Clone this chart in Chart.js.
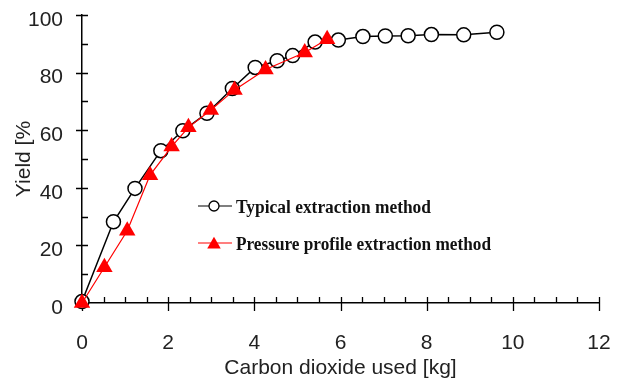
<!DOCTYPE html>
<html>
<head>
<meta charset="utf-8">
<script src="https://cdn.jsdelivr.net/npm/chart.js@4/dist/chart.umd.min.js"></script>
<style>
  html, body { margin: 0; padding: 0; background: #fff; }
  #wrap { width: 617px; height: 385px; position: relative; }
</style>
</head>
<body>
<div id="wrap"><canvas id="c" width="617" height="385"></canvas></div>
<script>
// ---- data ----
const typicalX = [0, 0.73, 1.23, 1.83, 2.34, 2.90, 3.49, 4.02, 4.53, 4.89, 5.41, 5.95, 6.52, 7.04, 7.57, 8.11, 8.86, 9.63];
const typicalY = [0.5, 28.2, 39.8, 52.9, 59.8, 65.9, 74.5, 81.8, 84.1, 85.9, 90.6, 91.3, 92.5, 92.7, 92.8, 93.2, 93.1, 94.0];
const pressureX = [0, 0.52, 1.05, 1.58, 2.08, 2.47, 2.99, 3.54, 4.26, 5.17, 5.69];
const pressureY = [0, 12.4, 25.1, 44.4, 54.3, 61.0, 67.0, 74.0, 81.1, 87.0, 91.6];
const xTickLabels = [0, 2, 4, 6, 8, 10, 12];
const yTickLabels = [0, 20, 40, 60, 80, 100];
const xMinorStep = 0.5;
const yMinorStep = 10;
const seriesNames = ['Typical extraction method', 'Pressure profile extraction method'];
const xTitle = 'Carbon dioxide used [kg]';
const yTitle = 'Yield [%';

const toPts = (xs, ys) => xs.map((x, i) => ({x: x, y: ys[i]}));

const TEXT = '#222';
const tickFont = {family: 'Liberation Sans', size: 21};

// custom tick marks (crossing major ticks, inward minor ticks)
const tickPlugin = {
  id: 'tickMarks',
  beforeDatasetsDraw(chart) {
    const {ctx, scales: {x, y}} = chart;
    const axisY = y.getPixelForValue(0);
    const axisX = x.getPixelForValue(0);
    ctx.save();
    ctx.strokeStyle = '#000';
    ctx.lineWidth = 1.3;
    ctx.beginPath();
    for (let v = x.min; v <= x.max + 1e-9; v += xMinorStep) {
      const px = Math.round(x.getPixelForValue(v)) + 0.5;
      const major = xTickLabels.includes(Math.round(v * 100) / 100);
      ctx.moveTo(px, axisY - 6);
      ctx.lineTo(px, major ? axisY + 8 : axisY);
    }
    for (let v = y.min; v <= y.max + 1e-9; v += yMinorStep) {
      const py = Math.round(y.getPixelForValue(v)) + 0.5;
      const major = yTickLabels.includes(Math.round(v));
      ctx.moveTo(major ? axisX - 6 : axisX, py);
      ctx.lineTo(axisX + 6, py);
    }
    ctx.stroke();
    ctx.restore();
  }
};

// legend drawn inside the plot
const legendPlugin = {
  id: 'innerLegend',
  afterDatasetsDraw(chart) {
    const {ctx} = chart;
    const items = [
      {y: 206, color: '#000', lw: 1.2, shape: 'circle', text: seriesNames[0], w: 195},
      {y: 243, color: '#ff0000', lw: 1.2, shape: 'triangle', text: seriesNames[1], w: 255}
    ];
    ctx.save();
    items.forEach(it => {
      ctx.strokeStyle = it.color;
      ctx.lineWidth = it.lw;
      ctx.beginPath();
      ctx.moveTo(198, it.y);
      ctx.lineTo(232, it.y);
      ctx.stroke();
      if (it.shape === 'circle') {
        ctx.beginPath();
        ctx.arc(214, it.y, 5, 0, Math.PI * 2);
        ctx.fillStyle = '#fff';
        ctx.fill();
        ctx.lineWidth = 1.3;
        ctx.strokeStyle = '#000';
        ctx.stroke();
      } else {
        const r = 7.8;
        ctx.beginPath();
        for (let k = 0; k < 3; k++) {
          const a = k * 2 * Math.PI / 3;
          const px = 214 + Math.sin(a) * r, py = it.y + 1.5 - Math.cos(a) * r;
          k === 0 ? ctx.moveTo(px, py) : ctx.lineTo(px, py);
        }
        ctx.closePath();
        ctx.fillStyle = '#ff0000';
        ctx.fill();
      }
      ctx.font = 'bold 18px "Liberation Serif"';
      ctx.fillStyle = '#111';
      ctx.textBaseline = 'alphabetic';
      ctx.textAlign = 'left';
      const mw = ctx.measureText(it.text).width;
      ctx.save();
      ctx.translate(236, it.y + 7);
      ctx.scale(it.w / mw, 1);
      ctx.fillText(it.text, 0, 0);
      ctx.restore();
    });
    ctx.restore();
  }
};

new Chart(document.getElementById('c'), {
  type: 'scatter',
  data: {
    datasets: [
      {
        label: seriesNames[1],
        data: toPts(pressureX, pressureY),
        showLine: true,
        borderColor: '#ff0000',
        borderWidth: 1.2,
        pointStyle: 'triangle',
        pointRadius: 9.5,
        pointBackgroundColor: '#ff0000',
        pointBorderColor: '#ff0000',
        pointBorderWidth: 0,
        clip: false,
        order: 0
      },
      {
        label: seriesNames[0],
        data: toPts(typicalX, typicalY),
        showLine: true,
        borderColor: '#000',
        borderWidth: 1.5,
        pointStyle: 'circle',
        pointRadius: 7,
        pointBackgroundColor: '#fff',
        pointBorderColor: '#000',
        pointBorderWidth: 1.5,
        clip: false,
        order: 1
      }
    ]
  },
  options: {
    responsive: false,
    animation: false,
    layout: {padding: {left: 0, top: 15, right: 18, bottom: 0}},
    plugins: {legend: {display: false}, tooltip: {enabled: false}},
    scales: {
      x: {
        type: 'linear',
        min: 0, max: 12,
        afterFit: s => { s.height = 82; s.paddingLeft = 0; s.paddingRight = 0; },
        afterBuildTicks: s => { s.ticks = xTickLabels.map(v => ({value: v})); },
        grid: {display: false, drawTicks: false},
        border: {display: true, color: '#000', width: 1.5},
        ticks: {font: tickFont, color: TEXT, padding: 28, maxRotation: 0},
        title: {display: true, text: xTitle, font: tickFont, color: TEXT, padding: {top: 0, bottom: 4}}
      },
      y: {
        type: 'linear',
        min: 0, max: 100,
        afterFit: s => { s.width = 82; s.paddingTop = 0; s.paddingBottom = 0; },
        afterBuildTicks: s => { s.ticks = yTickLabels.map(v => ({value: v})); },
        grid: {display: false, drawTicks: false},
        border: {display: true, color: '#000', width: 1.5},
        ticks: {font: tickFont, color: TEXT, padding: 19, labelOffset: 5},
        title: {display: true, text: yTitle, font: tickFont, color: TEXT, padding: {top: 12, bottom: 0}}
      }
    }
  },
  plugins: [tickPlugin, legendPlugin]
});
</script>
</body>
</html>
